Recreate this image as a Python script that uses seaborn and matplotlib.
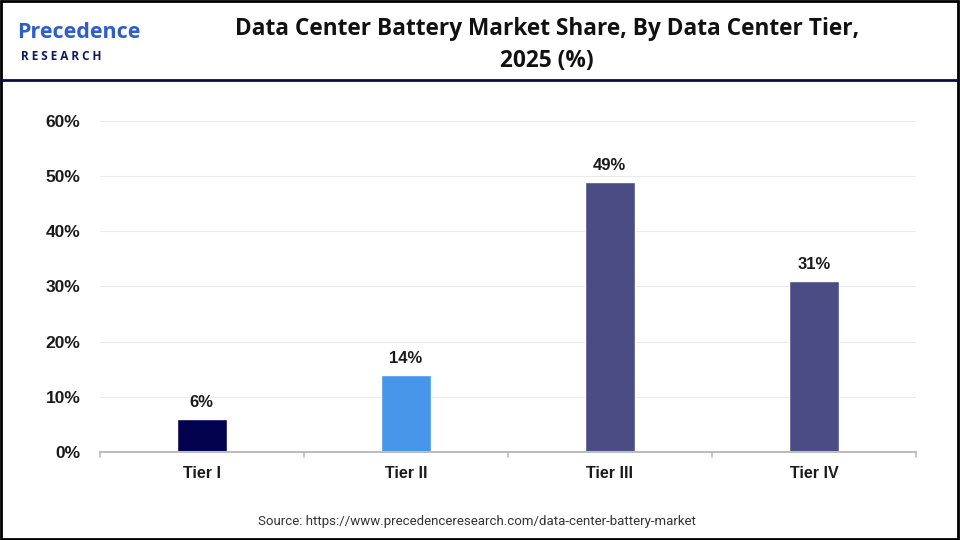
import matplotlib
matplotlib.use("Agg")
import matplotlib.pyplot as plt
import seaborn as sns
import pandas as pd
from matplotlib.lines import Line2D
from matplotlib.patches import Rectangle

# Daten
tiers = ["Tier I", "Tier II", "Tier III", "Tier IV"]
shares = [6, 14, 49, 31]
bar_colors = ["#02024f", "#4796ea", "#4b4c83", "#4b4c83"]
y_ticks = [0, 10, 20, 30, 40, 50, 60]

title = "Data Center Battery Market Share, By Data Center Tier,\n2025 (%)"
source = "Source: https://www.precedenceresearch.com/data-center-battery-market"

df = pd.DataFrame({"tier": tiers, "share": shares})

sns.set_theme(style="white")
plt.rcParams["font.family"] = ["Liberation Sans", "DejaVu Sans"]

fig = plt.figure(figsize=(9.6, 5.4), dpi=100)
ax = fig.add_axes([0.104, 0.163, 0.850, 0.613])

sns.barplot(data=df, x="tier", y="share", hue="tier", palette=bar_colors,
            width=0.245, legend=False, ax=ax, saturation=1)

# Werte über den Balken
for i, v in enumerate(shares):
    ax.text(i, v + 1.6, f"{v}%", ha="center", va="bottom",
            fontsize=12, fontweight="bold", color="#1a1a1a")

ax.set_ylim(0, 60)
ax.set_xlim(-0.5, len(tiers) - 0.5)
ax.set_yticks(y_ticks)
ax.set_yticklabels([f"{t}%" for t in y_ticks], fontsize=12.5, fontweight="bold", color="#1a1a1a")
ax.set_xticks(range(len(tiers)))
ax.set_xticklabels(tiers, fontsize=11.5, fontweight="bold", color="#1a1a1a")
ax.tick_params(axis="x", length=0, pad=10)
ax.tick_params(axis="y", length=0, pad=14)
ax.set_xlabel("")
ax.set_ylabel("")
ax.grid(axis="y", color="#ebebeb", linewidth=0.8)
ax.set_axisbelow(True)
for side in ["top", "right", "left"]:
    ax.spines[side].set_visible(False)
ax.spines["bottom"].set_color("#bdbdbd")
ax.spines["bottom"].set_linewidth(1.5)

# kleine Trennstriche zwischen den Kategorien
for b in [-0.5, 0.5, 1.5, 2.5, 3.5]:
    ax.plot([b, b], [0, -0.9], color="#bdbdbd", linewidth=1.2, clip_on=False)

# Titel
fig.text(0.57, 0.968, title, ha="center", va="top", fontsize=16.3,
         fontweight="bold", color="#111111", family=["Open Sans", "DejaVu Sans"],
         linespacing=1.45)

# Logo als Text
fig.text(0.018, 0.94, "Precedence", ha="left", va="center", fontsize=15.5,
         color="#2d5fc4", fontweight="bold", family=["Open Sans", "DejaVu Sans"])
fig.text(0.022, 0.896, "R E S E A R C H", ha="left", va="center", fontsize=8.5,
         color="#0c1a5c", fontweight="bold", family=["Open Sans", "DejaVu Sans"])

# Kopflinie und Rahmen
fig.add_artist(Line2D([0, 1], [0.851, 0.851], transform=fig.transFigure,
                      color="#0c0c45", linewidth=2))
fig.add_artist(Rectangle((0.001, 0.002), 0.997, 0.996, transform=fig.transFigure,
                         fill=False, edgecolor="black", linewidth=2))

# Quelle
fig.text(0.497, 0.035, source, ha="center", va="center", fontsize=9.5,
         color="#333333", family=["Roboto", "DejaVu Sans"], fontstretch="condensed")

fig.savefig("out.png", dpi=100)
